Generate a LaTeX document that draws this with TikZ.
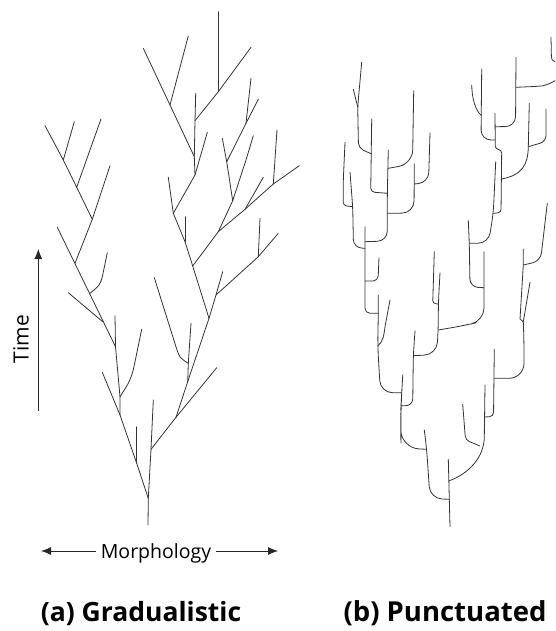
\documentclass[tikz,border=0pt]{standalone}
\usepackage{fontspec}
\setmainfont{Open Sans}
\usetikzlibrary{arrows.meta}
\begin{document}
\begin{tikzpicture}[x=1pt,y=-1pt,
  br/.style={line width=0.8pt, draw=black!80, line cap=round, line join=round},
  pr/.style={br, rounded corners=#1},
  pr/.default=6pt,
  axarrow/.style={line width=0.8pt, draw=black!85, -{Latex[length=10pt,width=8pt]}},
  lbl/.style={font=\fontsize{26.5}{30}\selectfont\bfseries, inner sep=0pt, anchor=base},
  axlbl/.style={font=\fontsize{19.5}{22}\selectfont, inner sep=0pt}]
\useasboundingbox (0,0) rectangle (555,631);
\fill[white] (0,0) rectangle (555,631);

% ---------- (a) Gradualistic tree ----------
\draw[br] (148,525) -- (148.3,498.3);
\draw[br] (148.3,498.3) -- (136.7,463.3) -- (120,415) -- (102.3,372.3);
\draw[br] (136.7,463.3) -- (136.7,426.7);
\draw[br] (120,415) -- (120,396.7) -- (115.5,346.7) -- (115,315.7);
\draw[br] (120,396.7) .. controls (130,381) .. (133.5,369) -- (141.7,329.3);
\draw[br] (115.5,346.7) -- (57.3,227.3);
\draw[br] (102.7,321.7) -- (68.3,292.7);
\draw[br] (90,293.3) .. controls (100,285) .. (102.5,276) -- (107.3,252.7);
\draw[br] (75,263.3) -- (92.3,219.3) -- (110,165.7);
\draw[br] (92.3,219.3) -- (76.7,187.3) -- (63.3,160) -- (45,125.7);
\draw[br] (76.7,187.3) -- (101,119);
\draw[br] (63.3,160) -- (74.3,121.7);

\draw[br] (148.3,498.3) -- (151,449.3) -- (153.3,400);
\draw[br] (151,449.3) -- (176,417.3) -- (216.7,367.7);
\draw[br] (176,417.3) -- (187.7,381.7) -- (209,318.3);
\draw[br] (187.7,381.7) -- (188.3,363.3) -- (191,323.3);
\draw[br] (188.3,363.3) .. controls (180,358) .. (177,350) -- (154.3,277.7);
\draw[br] (209,318.3) -- (216,295) -- (222.7,271.7);
\draw[br] (216,295) -- (258.3,256.7) -- (278.3,233.3);
\draw[br] (258.3,256.7) -- (260,218.3);
\draw[br] (209,318.3) -- (192.7,266) -- (185,241.7) -- (173.3,213.3);
\draw[br] (185,241.7) -- (185,216.7);
\draw[br] (192.7,266) -- (218.3,231.7) -- (245,209.3) -- (273.3,184) -- (299.3,165.7);
\draw[br] (173.3,213.3) -- (168.3,177.3);
\draw[br] (173.3,213.3) -- (195,175) -- (194.3,156.7) -- (195,120.7) -- (195.7,93.3);
\draw[br] (195,175) -- (207.3,132.3);
\draw[br] (194.3,156.7) -- (170,105) -- (143.3,48.3);
\draw[br] (170,105) -- (188.3,36);
\draw[br] (195,120.7) -- (218.3,91.7) -- (251,47.3);
\draw[br] (218.3,91.7) -- (218.3,11.7);
\draw[br] (218.3,231.7) -- (232.7,200.7) -- (246,160) -- (253.3,135.7);
\draw[br] (232.7,200.7) -- (226.7,161.7) -- (222.3,138.3);
\draw[br] (226.7,161.7) -- (246,123.3) -- (258.3,99.3);
\draw[br] (246,123.3) -- (251,78.3);
\draw[br] (245,209.3) -- (263.3,177.3);
\draw[br] (273.3,184) -- (277,130);

% ---------- (b) Punctuated tree ----------
\draw[br] (450,526.7) -- (448.3,459.3);
\draw[pr=12pt] (449.3,499.3) -- (430,498.5) -- (426.7,449.3) -- (424.3,430);
\draw[br] (449.3,480.7) .. controls (468,474) and (484,458) .. (484.3,437) -- (485,385);
\draw[pr=4pt] (480,446) -- (465.5,440) -- (462.7,404.3);
\draw[pr=4pt] (484.5,417) -- (493.5,416.5) -- (494.3,349.3);
\draw[pr=15pt] (494.3,378.3) -- (524,378.3) -- (524,340) -- (523.3,321.7);
\draw[br] (523.3,321.7) -- (520,319) -- (523.3,265) -- (523.3,249);
\draw[br] (523.3,321.7) -- (530,282.3);
\draw[pr=8pt] (523.3,265) -- (540.5,261) -- (547.3,203.3);

\draw[pr=18pt] (426.7,449.3) -- (401,448) -- (400.7,425) -- (401,405.7) -- (401.7,392.7) -- (402.7,376);
\draw[pr=12pt] (401.7,392.7) -- (380.5,392.7) -- (377.7,346.7) -- (378.3,313.3) -- (378.3,295);
\draw[pr=7pt] (401,405.7) -- (412.7,405.7) -- (413.3,356) -- (415,330.7);
\draw[pr=12pt] (413.3,355.7) -- (436.5,354.5) -- (438.3,330) -- (438.3,304) -- (440,272.7);
\draw[pr=3pt] (438.3,304) -- (432.7,303.5) -- (434.3,251.7);
\draw[pr=13pt] (438.3,330) -- (463.3,325.7) -- (484,321) -- (484,251.7);
\draw[pr=8pt] (484,287.7) -- (470,287) -- (469.3,243.3) -- (468.3,220.7);
\draw[pr=10pt] (469.3,243.3) -- (488.5,243) -- (493.3,213.3) -- (495.7,161.7);
\draw[pr=3pt] (493.3,213.3) -- (501,212.5) -- (501.7,150) -- (495.3,149) -- (495,113.3);
\draw[pr=10pt] (495,140) -- (481,140) -- (481.7,69);
\draw[br] (481.3,115.5) .. controls (475,110) and (472,98) .. (471.7,85);
\draw[pr=10pt] (495,126.7) -- (515.5,126.5) -- (516,57.3);
\draw[br] (516,87.3) -- (530,86.7) .. controls (545,86) .. (555,80.7);
\draw[br] (551,37.3) -- (551.4,57) .. controls (551.8,60) .. (555,61.7);
\draw[br] (501.7,179) .. controls (522,175) and (528,165) .. (528.3,146.7) -- (529.3,103.3);
\draw[pr=6pt] (528.3,146.7) -- (546,141.5) -- (546,109);

\draw[pr=5pt] (378.3,313.3) -- (365,313.3) -- (365,226.7);
\draw[br] (377.7,346) .. controls (383,342) and (384,335) .. (385,326.7) -- (390,300);
\draw[pr=5pt] (365,281) -- (378,281) -- (379,257.7);
\draw[pr=8pt] (365,248.3) -- (353.5,247.5) -- (352.7,206.7) -- (350,172.3);
\draw[pr=10pt] (365,241.7) -- (387.3,241) -- (387.3,194) -- (388.3,150);
\draw[pr=3pt] (352.7,206.7) -- (343.3,205.5) -- (343.3,180) -- (345,142.3);
\draw[pr=4pt] (387.3,193.3) -- (370.7,192) -- (371.7,119);
\draw[pr=12pt] (387.3,213.3) -- (414,213) -- (414.3,164);
\draw[pr=10pt] (414.3,184) -- (428.5,182.5) -- (430,132.7);
\draw[pr=14pt] (388.3,168.3) -- (412.5,164) -- (413.7,90.7);
\draw[pr=5pt] (371.7,154) -- (358.5,148) -- (357.7,106.7) -- (361.7,62.3);
\draw[br] (357.7,106.7) -- (353.3,89.3);

% ---------- axes ----------
\coordinate (tbot) at (38.3,411);
\coordinate (ttop) at (38.3,249);
\draw[axarrow] (tbot) -- (ttop);
\node[axlbl, font=\fontsize{21}{24}\selectfont, rotate=90] (time) at (21,339) {Time};

\node[axlbl, anchor=base] (morph) at (156,558) {Morphology};
\coordinate (mleft) at (41,551);
\coordinate (mright) at (278,551);
\draw[axarrow] ([xshift=-5pt]morph.west |- mleft) -- (mleft);
\draw[axarrow] ([xshift=5pt]morph.east |- mright) -- (mright);

\node[lbl] (la) at (141,621) {(a) Gradualistic};
\node[lbl, font=\fontsize{27.5}{31}\selectfont\bfseries] (lb) at (445,621) {(b) Punctuated};
\end{tikzpicture}
\end{document}
